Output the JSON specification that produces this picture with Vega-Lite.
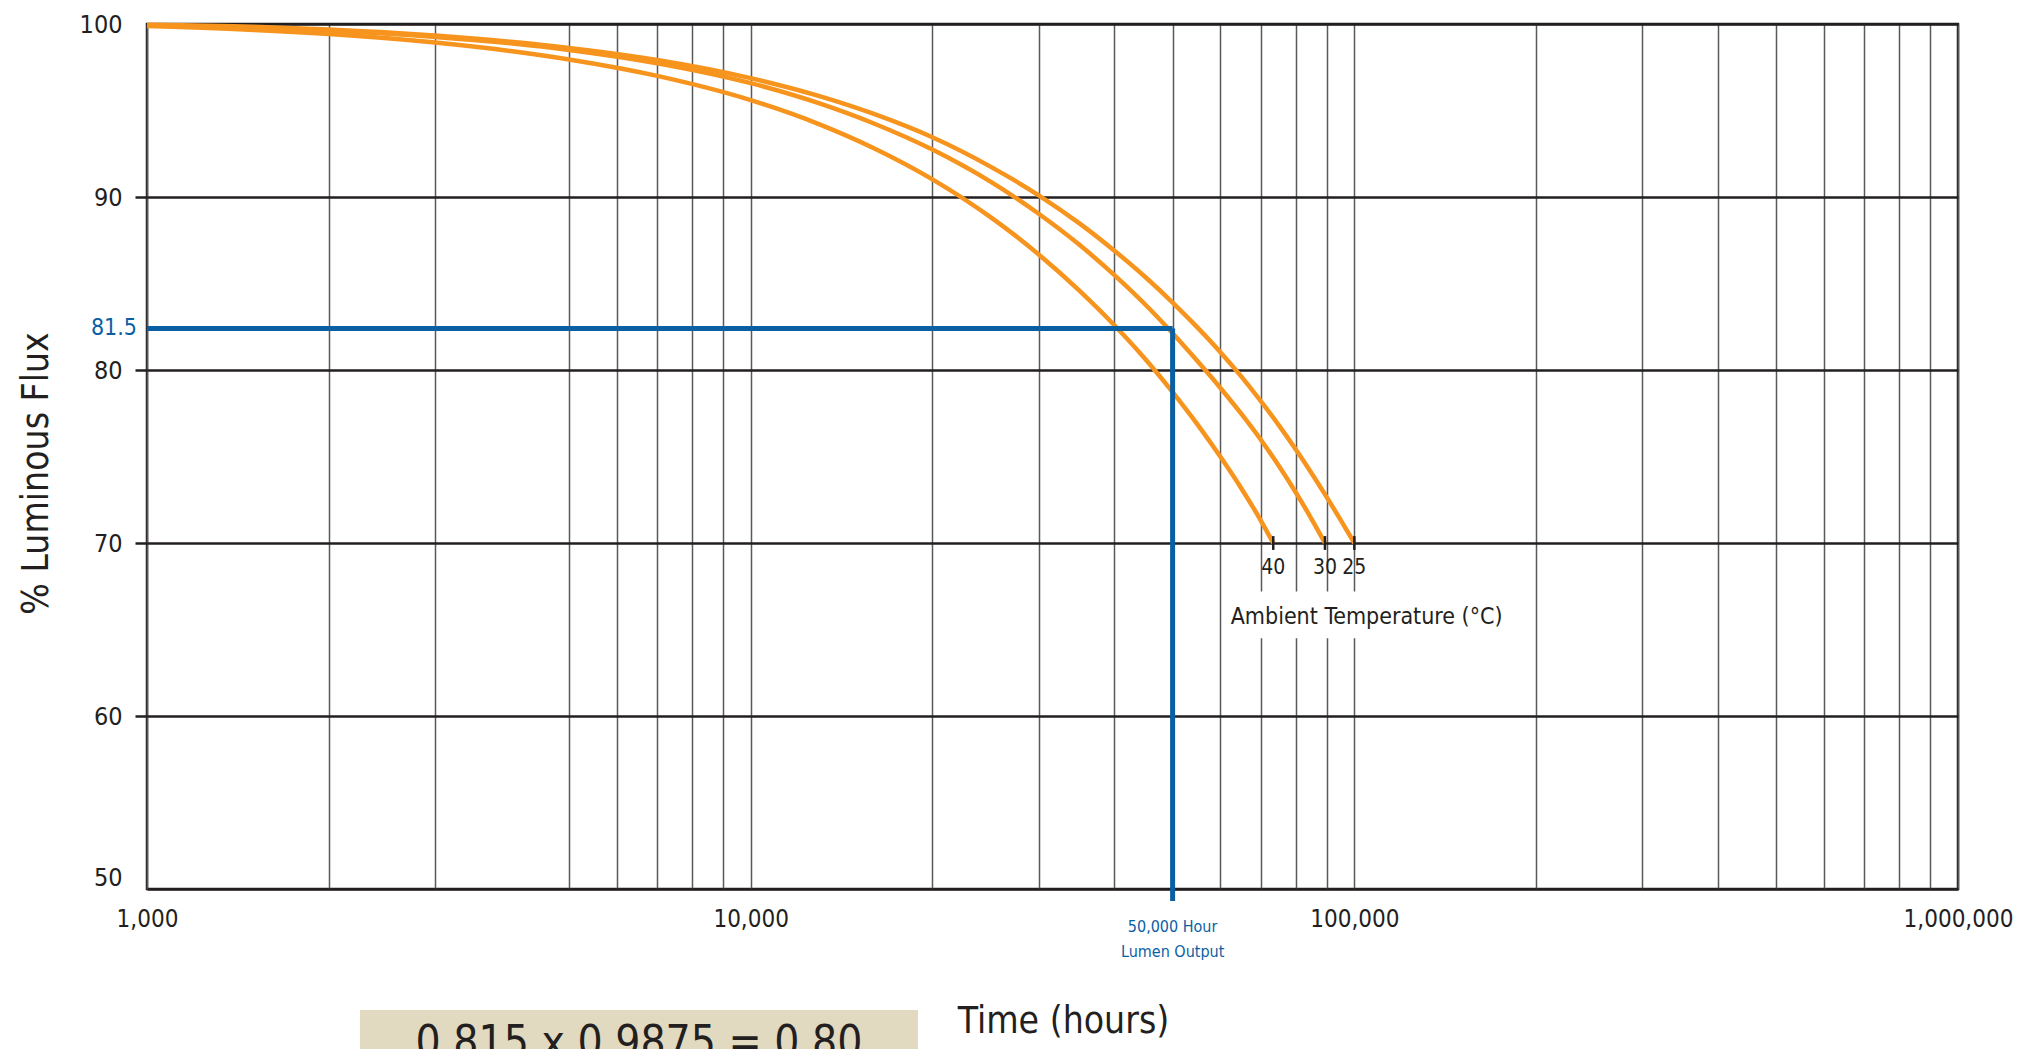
{
  "$schema": "https://vega.github.io/schema/vega-lite/v6.json",
  "width": 1811,
  "height": 865,
  "autosize": {"type": "none"},
  "padding": {"left": 147, "top": 24, "right": 78, "bottom": 160},
  "background": "white",
  "config": {
    "view": {"stroke": "#231f20", "strokeWidth": 2.5},
    "font": "'Liberation Sans Narrow', 'DejaVu Sans Condensed', Roboto, sans-serif"
  },
  "datasets": {
    "curves": [
      {"temp": "25", "hours": 1000, "flux": 99.95},
      {"temp": "25", "hours": 1500, "flux": 99.84},
      {"temp": "25", "hours": 2000, "flux": 99.68},
      {"temp": "25", "hours": 3000, "flux": 99.33},
      {"temp": "25", "hours": 4000, "flux": 98.97},
      {"temp": "25", "hours": 5000, "flux": 98.62},
      {"temp": "25", "hours": 7000, "flux": 97.92},
      {"temp": "25", "hours": 10000, "flux": 96.87},
      {"temp": "25", "hours": 13000, "flux": 95.83},
      {"temp": "25", "hours": 16000, "flux": 94.8},
      {"temp": "25", "hours": 20000, "flux": 93.45},
      {"temp": "25", "hours": 25000, "flux": 91.74},
      {"temp": "25", "hours": 30000, "flux": 90.1},
      {"temp": "25", "hours": 35000, "flux": 88.49},
      {"temp": "25", "hours": 40000, "flux": 86.91},
      {"temp": "25", "hours": 45000, "flux": 85.39},
      {"temp": "25", "hours": 50000, "flux": 83.9},
      {"temp": "25", "hours": 55000, "flux": 82.45},
      {"temp": "25", "hours": 60000, "flux": 81.03},
      {"temp": "25", "hours": 65000, "flux": 79.62},
      {"temp": "25", "hours": 70000, "flux": 78.2},
      {"temp": "25", "hours": 75000, "flux": 76.8},
      {"temp": "25", "hours": 80000, "flux": 75.4},
      {"temp": "25", "hours": 85000, "flux": 74.02},
      {"temp": "25", "hours": 90000, "flux": 72.65},
      {"temp": "25", "hours": 95000, "flux": 71.31},
      {"temp": "25", "hours": 100000, "flux": 70.0},
      {"temp": "30", "hours": 1000, "flux": 99.92},
      {"temp": "30", "hours": 1500, "flux": 99.79},
      {"temp": "30", "hours": 2000, "flux": 99.62},
      {"temp": "30", "hours": 3000, "flux": 99.25},
      {"temp": "30", "hours": 4000, "flux": 98.88},
      {"temp": "30", "hours": 5000, "flux": 98.5},
      {"temp": "30", "hours": 7000, "flux": 97.73},
      {"temp": "30", "hours": 10000, "flux": 96.58},
      {"temp": "30", "hours": 13000, "flux": 95.41},
      {"temp": "30", "hours": 16000, "flux": 94.25},
      {"temp": "30", "hours": 20000, "flux": 92.74},
      {"temp": "30", "hours": 25000, "flux": 90.87},
      {"temp": "30", "hours": 30000, "flux": 89.03},
      {"temp": "30", "hours": 35000, "flux": 87.25},
      {"temp": "30", "hours": 40000, "flux": 85.5},
      {"temp": "30", "hours": 45000, "flux": 83.8},
      {"temp": "30", "hours": 50000, "flux": 82.12},
      {"temp": "30", "hours": 55000, "flux": 80.5},
      {"temp": "30", "hours": 60000, "flux": 78.96},
      {"temp": "30", "hours": 65000, "flux": 77.46},
      {"temp": "30", "hours": 70000, "flux": 75.97},
      {"temp": "30", "hours": 75000, "flux": 74.45},
      {"temp": "30", "hours": 80000, "flux": 72.92},
      {"temp": "30", "hours": 85000, "flux": 71.37},
      {"temp": "30", "hours": 89400, "flux": 70.0},
      {"temp": "40", "hours": 1000, "flux": 99.88},
      {"temp": "40", "hours": 1500, "flux": 99.66},
      {"temp": "40", "hours": 2000, "flux": 99.42},
      {"temp": "40", "hours": 3000, "flux": 98.93},
      {"temp": "40", "hours": 4000, "flux": 98.44},
      {"temp": "40", "hours": 5000, "flux": 97.95},
      {"temp": "40", "hours": 7000, "flux": 97.0},
      {"temp": "40", "hours": 10000, "flux": 95.6},
      {"temp": "40", "hours": 13000, "flux": 94.2},
      {"temp": "40", "hours": 16000, "flux": 92.82},
      {"temp": "40", "hours": 20000, "flux": 91.02},
      {"temp": "40", "hours": 25000, "flux": 88.82},
      {"temp": "40", "hours": 30000, "flux": 86.68},
      {"temp": "40", "hours": 35000, "flux": 84.6},
      {"temp": "40", "hours": 40000, "flux": 82.6},
      {"temp": "40", "hours": 45000, "flux": 80.65},
      {"temp": "40", "hours": 50000, "flux": 78.72},
      {"temp": "40", "hours": 55000, "flux": 76.84},
      {"temp": "40", "hours": 60000, "flux": 74.98},
      {"temp": "40", "hours": 65000, "flux": 73.15},
      {"temp": "40", "hours": 70000, "flux": 71.3},
      {"temp": "40", "hours": 73400, "flux": 70.0}
    ],
    "ends": [
      {"temp": "40", "hours": 73400},
      {"temp": "30", "hours": 89400},
      {"temp": "25", "hours": 100000}
    ]
  },
  "layer": [
    {
      "data": {"name": "curves"},
      "mark": {"type": "line", "stroke": "#f7941d", "strokeWidth": 4.5, "interpolate": "monotone"},
      "encoding": {
        "x": {
          "field": "hours",
          "type": "quantitative",
          "scale": {"type": "log", "domain": [1000, 1000000], "nice": false},
          "axis": {
            "title": "Time (hours)",
            "values": [1000, 2000, 3000, 5000, 6000, 7000, 8000, 9000, 10000, 20000, 30000, 40000, 50000, 60000, 70000, 80000, 90000, 100000, 200000, 300000, 400000, 500000, 600000, 700000, 800000, 900000, 1000000],
            "labelExpr": "(datum.value == 1000 || datum.value == 10000 || datum.value == 100000 || datum.value == 1000000) ? format(datum.value, ',') : ''",
            "ticks": false,
            "domain": false,
            "grid": true,
            "gridColor": "#58595b",
            "gridWidth": 1.5,
            "labelFontSize": 24,
            "labelColor": "#231f20",
            "labelPadding": 18,
            "labelFlush": false,
            "labelOverlap": false,
            "labelBound": false,
            "titleFontSize": 37,
            "titleFontWeight": "normal",
            "titleColor": "#231f20",
            "titlePadding": 72,
            "titleX": 916
          }
        },
        "y": {
          "field": "flux",
          "type": "quantitative",
          "scale": {"domain": [50, 100], "nice": false, "zero": false},
          "axis": {
            "title": "% Luminous Flux",
            "values": [50, 60, 70, 80, 90, 100],
            "tickSize": 12,
            "tickWidth": 2.5,
            "tickColor": "#231f20",
            "tickOpacity": {"condition": {"test": "datum.value == 50 || datum.value == 100", "value": 0}, "value": 1},
            "labelOffset": {"condition": {"test": "datum.value == 50", "value": -12}, "value": 0},
            "domain": false,
            "grid": true,
            "gridColor": "#231f20",
            "gridWidth": 2.5,
            "labelFontSize": 25,
            "labelColor": "#231f20",
            "labelPadding": 13,
            "labelFlush": false,
            "titleFontSize": 37,
            "titleFontWeight": "normal",
            "titleColor": "#231f20",
            "titlePadding": 24,
            "titleY": 449
          }
        },
        "detail": {"field": "temp"}
      }
    },
    {
      "data": {"values": [{}]},
      "mark": {"type": "rect", "fill": "white"},
      "encoding": {
        "x": {"datum": 62700, "type": "quantitative"},
        "x2": {"datum": 174000},
        "y": {"datum": 67.2, "type": "quantitative"},
        "y2": {"datum": 64.5}
      }
    },
    {
      "data": {"values": [{}]},
      "mark": {"type": "rule", "stroke": "#0a5fa3", "strokeWidth": 5},
      "encoding": {
        "x": {"datum": 1000, "type": "quantitative"},
        "x2": {"datum": 50000},
        "y": {"datum": 82.4, "type": "quantitative"}
      }
    },
    {
      "data": {"values": [{}]},
      "mark": {"type": "rule", "stroke": "#0a5fa3", "strokeWidth": 5},
      "encoding": {
        "x": {"datum": 50000, "type": "quantitative"},
        "y": {"datum": 82.4, "type": "quantitative"},
        "y2": {"datum": 49.3}
      }
    },
    {
      "data": {"name": "ends"},
      "mark": {"type": "rule", "stroke": "#231f20", "strokeWidth": 2.5},
      "encoding": {
        "x": {"field": "hours", "type": "quantitative"},
        "y": {"datum": 70.4, "type": "quantitative"},
        "y2": {"datum": 69.6}
      }
    },
    {
      "data": {"name": "ends"},
      "mark": {"type": "text", "fontSize": 21, "color": "#231f20", "baseline": "middle", "align": "center"},
      "encoding": {
        "x": {"field": "hours", "type": "quantitative"},
        "y": {"datum": 68.55, "type": "quantitative"},
        "text": {"field": "temp"}
      }
    },
    {
      "data": {"values": [{}]},
      "mark": {"type": "text", "fontSize": 23, "color": "#231f20", "baseline": "middle", "align": "center", "text": "Ambient Temperature (°C)"},
      "encoding": {
        "x": {"datum": 104800, "type": "quantitative"},
        "y": {"datum": 65.74, "type": "quantitative"}
      }
    },
    {
      "data": {"values": [{}]},
      "mark": {"type": "text", "fontSize": 16, "color": "#0a5fa3", "baseline": "middle", "align": "center", "lineHeight": 25, "text": ["50,000 Hour", "Lumen Output"]},
      "encoding": {
        "x": {"datum": 50000, "type": "quantitative"},
        "y": {"datum": 47.8, "type": "quantitative"}
      }
    },
    {
      "data": {"values": [{}]},
      "mark": {"type": "text", "fontSize": 23, "color": "#0a5fa3", "baseline": "middle", "align": "right", "dx": -10, "text": "81.5"},
      "encoding": {
        "x": {"datum": 1000, "type": "quantitative"},
        "y": {"datum": 82.4, "type": "quantitative"}
      }
    },
    {
      "data": {"values": [{}]},
      "mark": {"type": "rect", "fill": "#e1d9c0"},
      "encoding": {
        "x": {"datum": 2253, "type": "quantitative"},
        "x2": {"datum": 18930},
        "y": {"datum": 43.0, "type": "quantitative"},
        "y2": {"datum": 38}
      }
    },
    {
      "data": {"values": [{}]},
      "mark": {"type": "text", "fontSize": 44, "color": "#231f20", "baseline": "top", "align": "center", "text": "0.815   x   0.9875   =   0.80"},
      "encoding": {
        "x": {"datum": 6531, "type": "quantitative"},
        "y": {"datum": 42.31, "type": "quantitative"}
      }
    }
  ]
}
